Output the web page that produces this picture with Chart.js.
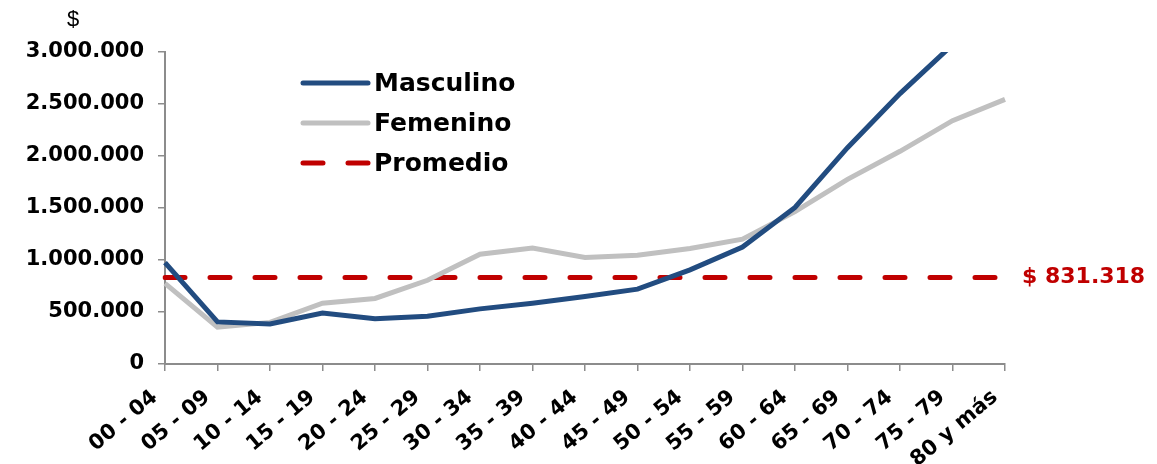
<!DOCTYPE html>
<html>
<head>
<meta charset="utf-8">
<script src="https://cdn.jsdelivr.net/npm/chart.js@4"></script>
<style>
  html, body { margin: 0; padding: 0; background: #fff; }
  #wrap { width: 1157px; height: 464px; position: relative; }
</style>
</head>
<body>
<div id="wrap"><canvas id="chart"></canvas></div>
<script>
// age groups on the x axis
const categories = ['00 - 04', '05 - 09', '10 - 14', '15 - 19', '20 - 24', '25 - 29', '30 - 34', '35 - 39',
  '40 - 44', '45 - 49', '50 - 54', '55 - 59', '60 - 64', '65 - 69', '70 - 74', '75 - 79', '80 y más'];

// values ($)
const masculino = [975000, 405000, 385000, 490000, 435000, 460000, 530000, 585000,
  650000, 720000, 905000, 1125000, 1505000, 2080000, 2600000, 3070000, 3550000];
const femenino = [775000, 355000, 400000, 585000, 630000, 805000, 1055000, 1115000,
  1025000, 1045000, 1110000, 1200000, 1465000, 1775000, 2045000, 2340000, 2545000];
const PROMEDIO = 831318;
const promedio = [831318, 831318, 831318, 831318, 831318, 831318, 831318, 831318,
  831318, 831318, 831318, 831318, 831318, 831318, 831318, 831318, 831318];

const yTicks = [0, 500000, 1000000, 1500000, 2000000, 2500000, 3000000];

const fmt = v => v.toString().replace(/\B(?=(\d{3})+(?!\d))/g, '.');

const BOLD = '"DejaVu Sans", Verdana, sans-serif';

// legend inside the plot + "$" label + average value label
const extras = {
  id: 'extras',
  afterDraw(chart) {
    const ctx = chart.ctx;
    const area = chart.chartArea;
    ctx.save();

    // "$" over the y axis
    ctx.fillStyle = '#000';
    ctx.font = '22px "Liberation Sans", Arial, sans-serif';
    ctx.textAlign = 'center';
    ctx.textBaseline = 'middle';
    ctx.fillText('$', 73, 20);

    // legend
    const items = chart.data.datasets;
    ctx.font = 'bold 25px ' + BOLD;
    ctx.textAlign = 'left';
    items.forEach((ds, i) => {
      const y = 83 + i * 40;
      ctx.beginPath();
      ctx.lineWidth = ds.borderWidth;
      ctx.lineCap = 'round';
      ctx.strokeStyle = ds.borderColor;
      ctx.setLineDash(ds.borderDash || []);
      ctx.moveTo(303, y);
      ctx.lineTo(368, y);
      ctx.stroke();
      ctx.setLineDash([]);
      ctx.fillStyle = '#000';
      ctx.fillText(ds.label, 374, y + 1);
    });

    // average label at the right end
    const yPix = chart.scales.y.getPixelForValue(PROMEDIO);
    ctx.fillStyle = '#C00000';
    ctx.font = 'bold 22px ' + BOLD;
    ctx.fillText('$ ' + fmt(PROMEDIO), area.right + 17, yPix);
    ctx.restore();
  }
};

new Chart(document.getElementById('chart'), {
  type: 'line',
  data: {
    labels: categories,
    datasets: [
      {
        label: 'Masculino',
        data: masculino,
        borderColor: '#224C80',
        borderWidth: 5,
        pointRadius: 0,
        tension: 0,
        fill: false
      },
      {
        label: 'Femenino',
        data: femenino,
        borderColor: '#C0C0C0',
        borderWidth: 5,
        pointRadius: 0,
        tension: 0,
        fill: false
      },
      {
        label: 'Promedio',
        data: promedio,
        borderColor: '#C00000',
        borderWidth: 5,
        borderDash: [20, 25],
        borderCapStyle: 'round',
        pointRadius: 0,
        fill: false
      }
    ]
  },
  options: {
    responsive: true,
    maintainAspectRatio: false,
    animation: false,
    layout: { padding: { top: 52, right: 152, left: 0, bottom: 0 } },
    plugins: {
      legend: { display: false },
      tooltip: { enabled: false }
    },
    scales: {
      x: {
        offset: false,
        afterFit: s => { s.height = 100; },
        border: { color: '#8C8C8C', width: 2 },
        grid: { drawOnChartArea: false, tickLength: 7, color: '#8C8C8C', lineWidth: 1.5 },
        ticks: {
          color: '#000',
          font: { family: BOLD, size: 21, weight: 'bold' },
          minRotation: 40,
          maxRotation: 40,
          autoSkip: false,
          labelOffset: -10,
          padding: 14
        }
      },
      y: {
        min: 0,
        max: 3000000,
        afterFit: s => { s.width = 165; },
        afterBuildTicks: s => { s.ticks = yTicks.map(v => ({ value: v })); },
        border: { color: '#8C8C8C', width: 2 },
        grid: { drawOnChartArea: false, tickLength: 7, color: '#8C8C8C', lineWidth: 1.5 },
        ticks: {
          color: '#000',
          font: { family: BOLD, size: 21, weight: 'bold' },
          padding: 14,
          callback: v => fmt(v)
        }
      }
    }
  },
  plugins: [extras]
});
</script>
</body>
</html>
